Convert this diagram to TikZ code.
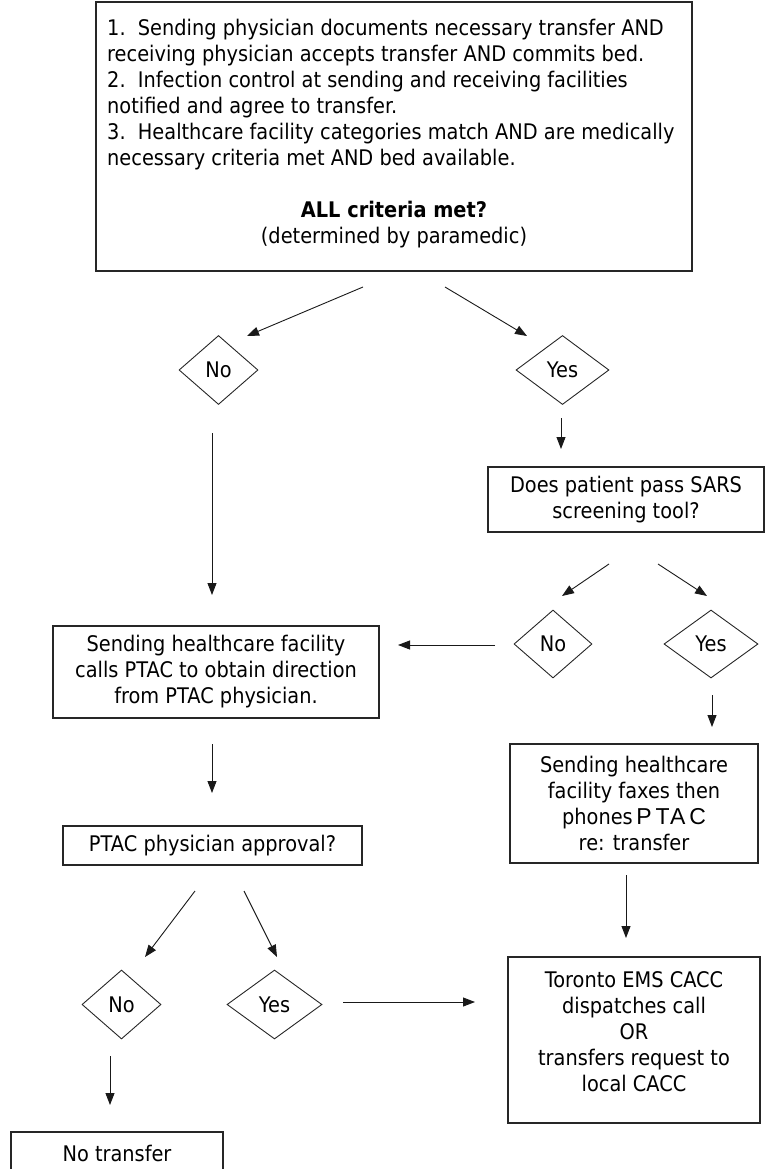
\documentclass[tikz,border=0pt]{standalone}
\usepackage{fontspec}
\setmainfont{DejaVu Sans}[FakeStretch=0.9]
\newfontfamily\arialf{Liberation Sans}
\usetikzlibrary{shapes.geometric,arrows.meta}
\begin{document}
\begin{tikzpicture}[x=1pt,y=-1pt,
  every node/.style={font=\fontsize{21.5}{26}\selectfont},
  box/.style={draw=black!85, line width=1.1pt, rectangle, inner sep=0pt, align=center},
  dia/.style={draw=black!85, line width=0.9pt, diamond, inner sep=0pt},
  arr/.style={draw=black!90, line width=0.9pt, -{Triangle[length=12pt,width=9pt]}}]
\useasboundingbox (0,0) rectangle (765,1169);
\clip (0,0) rectangle (765,1169);

% top criteria box
\node[box, minimum width=596pt, minimum height=269pt] (crit) at (394,136.5) {};
\node[anchor=north west, align=left, inner sep=0pt] (critlist) at (107,19)
  {1.~~Sending physician documents necessary transfer AND\\
   receiving physician accepts transfer AND commits bed.\\
   2.~~Infection control at sending and receiving facilities\\
   notified and agree to transfer.\\
   3.~~Healthcare facility categories match AND are medically\\
   necessary criteria met AND bed available.};
\node[align=center, inner sep=0pt] (allq) at (394,225)
  {\textbf{ALL criteria met?}\\(determined by paramedic)};

% first decision
\node[dia, minimum width=79pt, minimum height=69pt] (no1) at (218.5,370) {No};
\node[dia, minimum width=93pt, minimum height=69pt] (yes1) at (562.5,370) {Yes};
\coordinate (c1a) at (363,287); \coordinate (c1b) at (247,336);
\coordinate (c2a) at (445,287); \coordinate (c2b) at (527,336);
\draw[arr] (c1a) -- (c1b);
\draw[arr] (c2a) -- (c2b);

% SARS screening
\node[box, minimum width=276pt, minimum height=65pt] (sars) at (626,499.5)
  {Does patient pass SARS\\screening tool?};
\coordinate (c3a) at (561,418); \coordinate (c3b) at (561,449);
\draw[arr] (c3a) -- (c3b);

\node[dia, minimum width=78pt, minimum height=68pt] (no2) at (553,644) {No};
\node[dia, minimum width=94pt, minimum height=68pt] (yes2) at (711,644) {Yes};
\coordinate (c4a) at (609,564); \coordinate (c4b) at (562,596);
\coordinate (c5a) at (658,564); \coordinate (c5b) at (707,596);
\draw[arr] (c4a) -- (c4b);
\draw[arr] (c5a) -- (c5b);

% left branch
\node[box, minimum width=326pt, minimum height=92pt] (send) at (216,672)
  {Sending healthcare facility\\calls PTAC to obtain direction\\from PTAC physician.};
\coordinate (c6a) at (212,433); \coordinate (c6b) at (212,595);
\draw[arr] (c6a) -- (c6b);
\coordinate (c7a) at (495,645); \coordinate (c7b) at (398,645);
\draw[arr] (c7a) -- (c7b);

\node[box, minimum width=299pt, minimum height=39pt] (ptac) at (212.5,845.5)
  {PTAC physician approval?};
\coordinate (c8a) at (212,744); \coordinate (c8b) at (212,793);
\draw[arr] (c8a) -- (c8b);

\node[dia, minimum width=79pt, minimum height=69pt] (no3) at (121.5,1004.5) {No};
\node[dia, minimum width=95pt, minimum height=69pt] (yes3) at (274.5,1004.5) {Yes};
\coordinate (c9a) at (195,891); \coordinate (c9b) at (145,957);
\coordinate (c10a) at (244,891); \coordinate (c10b) at (277,957);
\draw[arr] (c9a) -- (c9b);
\draw[arr] (c10a) -- (c10b);

\node[box, minimum width=212pt, minimum height=60pt] (notr) at (117,1162) {};
\node[inner sep=0pt] (notrtext) at (117,1153) {No transfer};
\coordinate (c11a) at (110,1056); \coordinate (c11b) at (110,1105);
\draw[arr] (c11a) -- (c11b);

% right branch
\node[box, minimum width=248pt, minimum height=119pt] (fax) at (634,803.5)
  {Sending healthcare\\facility faxes then\\phones\,{\arialf\fontsize{23}{26}\selectfont P\,T\kern0.5pt A\,C}\hspace{16pt}\\re: transfer};
\coordinate (c12a) at (712,695); \coordinate (c12b) at (712,727);
\draw[arr] (c12a) -- (c12b);

\node[box, minimum width=252pt, minimum height=166pt] (tor) at (634,1040) {};
\node[align=center, inner sep=0pt] (tortext) at (634,1032)
  {Toronto EMS CACC\\dispatches call\\OR\\transfers request to\\local CACC};
\coordinate (c13a) at (626,875); \coordinate (c13b) at (626,938);
\draw[arr] (c13a) -- (c13b);
\coordinate (c14a) at (343,1002); \coordinate (c14b) at (475,1002);
\draw[arr] (c14a) -- (c14b);
\end{tikzpicture}
\end{document}
